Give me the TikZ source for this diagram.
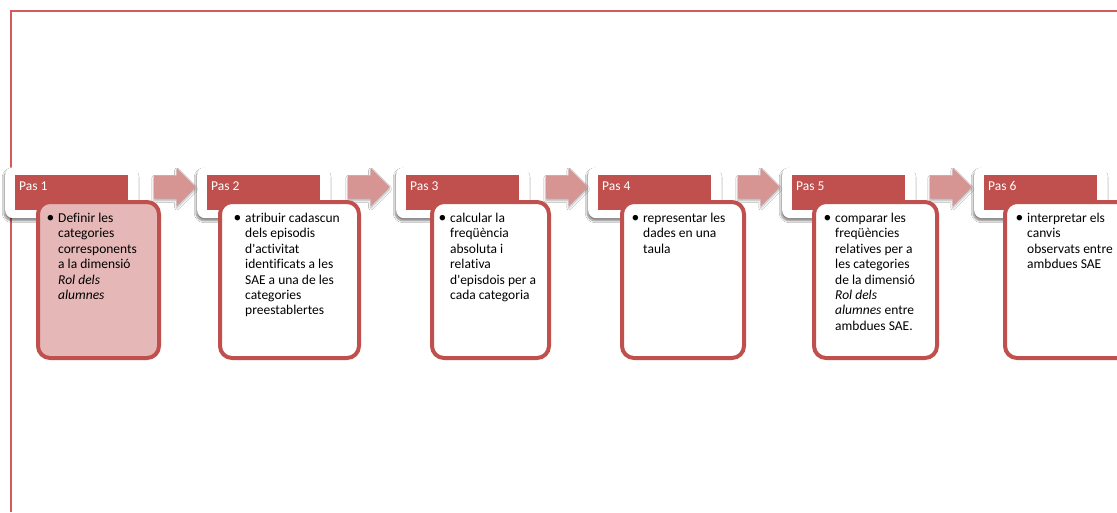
\documentclass[tikz,border=0pt]{standalone}
\usepackage{fontspec}
\setmainfont{Carlito}[Ligatures={NoCommon}]
\usetikzlibrary{shapes.arrows,shadows.blur}
\definecolor{accent}{RGB}{192,80,77}
\definecolor{pinkfill}{RGB}{229,184,183}
\definecolor{arrowc}{RGB}{214,148,146}
\definecolor{framec}{RGB}{212,90,94}
\newcommand\bl{\makebox[10pt][l]{\hspace*{-1.5pt}\scalebox{1.15}{\textbullet}}}
\newcommand\ind{\hspace*{10pt}}
\begin{document}
\begin{tikzpicture}[x=1pt,y=-1pt,
  card/.style={fill=white, rounded corners=8pt, inner sep=0pt, minimum height=51pt,
    blur shadow={shadow xshift=-1pt, shadow yshift=-2.5pt, shadow blur steps=8, shadow opacity=50}},
  header/.style={fill=accent, inner sep=0pt, minimum width=113pt, minimum height=35pt},
  headtext/.style={text=white, inner sep=0pt, font=\fontsize{13.5}{15.4}\selectfont},
  body/.style={draw=accent, line width=4pt, fill=white, rounded corners=12pt, inner sep=0pt, minimum height=156pt},
  bodytext/.style={inner sep=0pt, align=left, text=black, font=\fontsize{13.5}{15.4}\selectfont},
  arr/.style={single arrow, fill=arrowc, draw=none, inner xsep=0pt, inner ysep=11.5pt,
    single arrow head extend=7.5pt, minimum height=42pt,
    blur shadow={shadow xshift=0pt, shadow yshift=-2pt, shadow blur steps=6, shadow opacity=30}}
]
\useasboundingbox (0,0) rectangle (1117,512);
\clip (0,0) rectangle (1117,512);
\fill[white] (0,0) rectangle (1117,512);
% frame
\coordinate (fb) at (10.8,512);
\coordinate (fc) at (10.8,10.8);
\coordinate (fr) at (1117,10.8);
\draw[framec, line width=2.4pt] (fb) -- (fc) -- (fr);

% cards
\node[card, minimum width=133pt, anchor=north west] (c1) at (5,167) {};
\node[card, minimum width=133pt, anchor=north west] (c2) at (197,167) {};
\node[card, minimum width=133pt, anchor=north west] (c3) at (396,167) {};
\node[card, minimum width=133pt, anchor=north west] (c4) at (588,167) {};
\node[card, minimum width=133pt, anchor=north west] (c5) at (782,167) {};
\node[card, minimum width=133pt, anchor=north west] (c6) at (974,167) {};

% headers
\node[header, anchor=north west] (h1) at (15,175) {};
\node[header, anchor=north west] (h2) at (207,175) {};
\node[header, anchor=north west] (h3) at (406,175) {};
\node[header, anchor=north west] (h4) at (598,175) {};
\node[header, anchor=north west] (h5) at (792,175) {};
\node[header, anchor=north west] (h6) at (984,175) {};

\node[headtext, anchor=west] (t1) at (19,186) {Pas 1};
\node[headtext, anchor=west] (t2) at (211,186) {Pas 2};
\node[headtext, anchor=west] (t3) at (410,186) {Pas 3};
\node[headtext, anchor=west] (t4) at (602,186) {Pas 4};
\node[headtext, anchor=west] (t5) at (796,186) {Pas 5};
\node[headtext, anchor=west] (t6) at (988,186) {Pas 6};

% arrows
\node[arr] (a1) at (169,187) {};
\node[arr] (a2) at (363,187) {};
\node[arr] (a3) at (561,187) {};
\node[arr] (a4) at (753,187) {};
\node[arr] (a5) at (945,187) {};

% bodies
\node[body, fill=pinkfill, minimum width=121pt, anchor=north west] (b1) at (36,200) {};
\node[body, minimum width=139pt, anchor=north west] (b2) at (218,200) {};
\node[body, minimum width=117pt, anchor=north west] (b3) at (430,200) {};
\node[body, minimum width=122pt, anchor=north west] (b4) at (620,200) {};
\node[body, minimum width=123pt, anchor=north west] (b5) at (812,200) {};
\node[body, minimum width=130pt, anchor=north west] (b6) at (1003,200) {};

% body texts
\node[bodytext, anchor=north west] (x1) at (48,213) {\bl Definir les\\ \ind categories\\ \ind corresponents\\ \ind a la dimensió\\ \ind \textit{Rol dels}\\ \ind \textit{alumnes}};
\node[bodytext, anchor=north west] (x2) at (235,213) {\bl atribuir cadascun\\ \ind dels episodis\\ \ind d\textquotesingle activitat\\ \ind identificats a les\\ \ind SAE a una de les\\ \ind categories\\ \ind preestablertes};
\node[bodytext, anchor=north west] (x3) at (440,213) {\bl calcular la\\ \ind freqüència\\ \ind absoluta i\\ \ind relativa\\ \ind d\textquotesingle episdois per a\\ \ind cada categoria};
\node[bodytext, anchor=north west] (x4) at (633,213) {\bl representar les\\ \ind dades en una\\ \ind taula};
\node[bodytext, anchor=north west] (x5) at (825,213) {\bl comparar les\\ \ind freqüències\\ \ind relatives per a\\ \ind les categories\\ \ind de la dimensió\\ \ind \textit{Rol dels}\\ \ind \textit{alumnes} entre\\ \ind ambdues SAE.};
\node[bodytext, anchor=north west] (x6) at (1017,213) {\bl interpretar els\\ \ind canvis\\ \ind observats entre\\ \ind ambdues SAE};
\end{tikzpicture}
\end{document}
